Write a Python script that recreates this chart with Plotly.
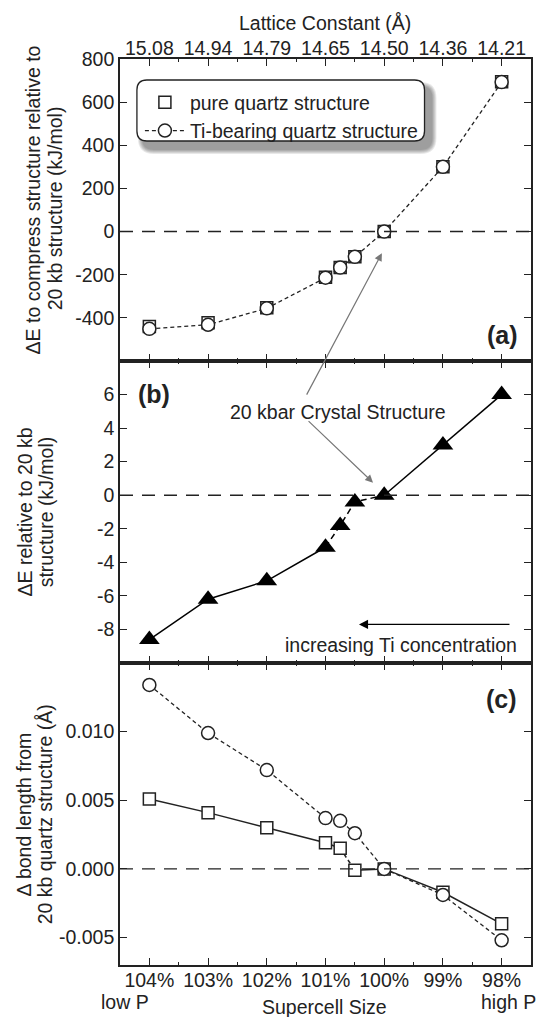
import plotly.graph_objects as go
from plotly.subplots import make_subplots

# Supercell size (% of the 20 kbar cell); the axis runs from low P to high P
supercell = [104, 103, 102, 101, 100.75, 100.5, 100, 99, 98]
size_ticks = [104, 103, 102, 101, 100, 99, 98]
size_labels = ["104%", "103%", "102%", "101%", "100%", "99%", "98%"]
size_minor = [103.5, 102.5, 101.5, 100.5, 99.5, 98.5]
lattice_labels = ["15.08", "14.94", "14.79", "14.65", "14.50", "14.36", "14.21"]

# (a) energy to compress the structure relative to the 20 kb structure (kJ/mol)
de_pure_a = [-440, -423, -353, -212, -166, -117, 0, 301, 695]
de_ti_a = [-451, -432, -356, -214, -167, -117, 0, 300, 693]
a_ticks = [-400, -200, 0, 200, 400, 600, 800]
a_labels = ["-400", "-200", "0", "200", "400", "600", "800"]

# (b) energy of the Ti-bearing cell relative to the 20 kb structure (kJ/mol)
de_b = [-8.6, -6.2, -5.1, -3.1, -1.8, -0.4, 0.0, 3.0, 6.0]
b_ticks = [-8, -6, -4, -2, 0, 2, 4, 6]
b_labels = ["-8", "-6", "-4", "-2", "0", "2", "4", "6"]

# (c) change of bond length relative to the 20 kb quartz structure (Å)
bond_pure_c = [0.0051, 0.0041, 0.0030, 0.0019, 0.0015, -0.0001, 0.0, -0.0017, -0.0040]
bond_ti_c = [0.0134, 0.0099, 0.0072, 0.0037, 0.0035, 0.0026, 0.0, -0.0019, -0.0052]
c_ticks = [-0.005, 0.0, 0.005, 0.010]
c_labels = ["-0.005", "0.000", "0.005", "0.010"]

INK = "#222222"
FONT = "Liberation Sans, Arial, Helvetica, sans-serif"
FS = 19.5
W, H = 539, 1017
ML, MR, MT, MB = 120, 6, 59, 52
PW, PH = W - ML - MR, H - MT - MB


def px(xp):
    return (xp - ML) / PW


def py(yp):
    return (H - MB - yp) / PH


fig = make_subplots(rows=3, cols=1, shared_xaxes=True, vertical_spacing=0)

sq = dict(symbol="square", size=12, color="white", line=dict(color=INK, width=1.5))
ci = dict(symbol="circle", size=13, color="white", line=dict(color=INK, width=1.5))
tri = dict(symbol="triangle-up", size=18, color="black", line=dict(color="black", width=0))
short_dash = "4px,3px"

# panel (a)
fig.add_trace(go.Scatter(x=supercell, y=de_pure_a, mode="markers", marker=sq,
                         name="pure quartz structure"), row=1, col=1)
fig.add_trace(go.Scatter(x=supercell, y=de_ti_a, mode="lines+markers", marker=ci,
                         line=dict(color=INK, width=1.3, dash=short_dash),
                         name="Ti-bearing quartz structure"), row=1, col=1)

# panel (b): measured ends solid, the segment near the 20 kb cell dashed
for i0, i1, dash in [(0, 4, "solid"), (3, 7, "6px,4px"), (6, 9, "solid")]:
    fig.add_trace(go.Scatter(x=supercell[i0:i1], y=de_b[i0:i1], mode="lines",
                             line=dict(color="black", width=1.5, dash=dash),
                             showlegend=False), row=2, col=1)
fig.add_trace(go.Scatter(x=supercell, y=de_b, mode="markers", marker=tri,
                         showlegend=False), row=2, col=1)

# panel (c)
fig.add_trace(go.Scatter(x=supercell, y=bond_ti_c, mode="lines",
                         line=dict(color=INK, width=1.3, dash=short_dash),
                         showlegend=False), row=3, col=1)
for i0, i1, dash in [(0, 5, "solid"), (4, 6, "4px,3px"), (5, 9, "solid")]:
    fig.add_trace(go.Scatter(x=supercell[i0:i1], y=bond_pure_c[i0:i1], mode="lines",
                             line=dict(color=INK, width=1.5, dash=dash),
                             showlegend=False), row=3, col=1)
fig.add_trace(go.Scatter(x=supercell, y=bond_pure_c, mode="markers", marker=sq,
                         showlegend=False), row=3, col=1)
fig.add_trace(go.Scatter(x=supercell, y=bond_ti_c, mode="markers", marker=ci,
                         showlegend=False), row=3, col=1)

# dashed zero reference in every panel
for r in (1, 2, 3):
    fig.add_hline(y=0, line=dict(color=INK, width=1.4, dash="13px,9px"), row=r, col=1)

axis_common = dict(showline=True, linecolor=INK, linewidth=1.7, mirror="ticks",
                   ticks="inside", ticklen=7, tickwidth=1.4, tickcolor=INK,
                   showgrid=False, zeroline=False,
                   tickfont=dict(family=FONT, size=FS, color=INK))
xminor = dict(tickvals=size_minor, ticks="inside", ticklen=3, tickcolor=INK, tickwidth=1.2)

fig.update_xaxes(range=[104.5, 97.5], tickvals=size_ticks, minor=xminor, **axis_common)
fig.update_xaxes(side="top", showticklabels=True, ticktext=lattice_labels,
                 ticklabelstandoff=-6, row=1, col=1)
fig.update_xaxes(showticklabels=False, row=2, col=1)
fig.update_xaxes(showticklabels=True, ticktext=size_labels,
                 ticklabelstandoff=-3, row=3, col=1)

fig.update_yaxes(**axis_common)
fig.update_yaxes(range=[-600, 800], tickvals=a_ticks, ticktext=a_labels, row=1, col=1)
fig.update_yaxes(range=[-10, 8], tickvals=b_ticks, ticktext=b_labels, row=2, col=1)
fig.update_yaxes(range=[-0.007, 0.015], tickvals=c_ticks, ticktext=c_labels, row=3, col=1)

ann = []


def text(s, xp, yp, size=FS, bold=False, angle=0, xanchor="center"):
    ann.append(dict(text=f"<b>{s}</b>" if bold else s, xref="paper", yref="paper",
                    x=px(xp), y=py(yp), xanchor=xanchor, yanchor="middle",
                    showarrow=False, textangle=angle,
                    font=dict(family=FONT, size=size, color=INK)))


text("Lattice Constant (Å)", 326, 23)
text("low P", 125, 1002)
text("Supercell Size", 325, 1007)
text("high P", 510, 1002)
text("(a)", 504, 335, size=25, bold=True)
text("(b)", 154, 394, size=25, bold=True)
text("(c)", 503, 699, size=25, bold=True)
text("20 kbar Crystal Structure", 339, 412)
text("increasing Ti concentration", 521, 645, xanchor="right")

# axis titles, two rotated lines each
text("ΔE to compress structure relative to", 33, 200, angle=-90)
text("20 kb structure (kJ/mol)", 55, 208, angle=-90)
text("ΔE relative to 20 kb", 25, 512, angle=-90)
text("structure (kJ/mol)", 46, 512, angle=-90)
text("Δ bond length from", 24, 814, angle=-90)
text("20 kb quartz structure (Å)", 45, 814, angle=-90)

# pointers to the 20 kbar cell
ann.append(dict(x=100.04, y=-100, xref="x", yref="y", ax=-76, ay=143, text="",
                showarrow=True, arrowhead=2, arrowsize=1.3, arrowwidth=1.2,
                arrowcolor="#777777"))
ann.append(dict(x=100.19, y=0.75, xref="x2", yref="y2", ax=-66, ay=-63, text="",
                showarrow=True, arrowhead=2, arrowsize=1.3, arrowwidth=1.2,
                arrowcolor="#777777"))
ann.append(dict(x=100.43, y=-7.7, xref="x2", yref="y2", ax=152, ay=0, text="",
                showarrow=True, arrowhead=2, arrowsize=1.4, arrowwidth=1.3,
                arrowcolor="black"))


def rounded_rect(x0, y0, x1, y1, r):
    # closed path in paper units, corners given in pixels
    X = px
    Y = py
    return (f"M {X(x0 + r)},{Y(y0)} L {X(x1 - r)},{Y(y0)} Q {X(x1)},{Y(y0)} {X(x1)},{Y(y0 + r)} "
            f"L {X(x1)},{Y(y1 - r)} Q {X(x1)},{Y(y1)} {X(x1 - r)},{Y(y1)} "
            f"L {X(x0 + r)},{Y(y1)} Q {X(x0)},{Y(y1)} {X(x0)},{Y(y1 - r)} "
            f"L {X(x0)},{Y(y0 + r)} Q {X(x0)},{Y(y0)} {X(x0 + r)},{Y(y0)} Z")


shapes = []
bx0, by0, bx1, by1 = 137, 80, 426, 141
for k in range(8):
    g = 9 - k
    shapes.append(dict(type="path", xref="paper", yref="paper",
                       path=rounded_rect(bx0 + 7 - g, by0 + 8 - g, bx1 + 6 + g, by1 + 7 + g, 10 + g),
                       fillcolor="rgba(0,0,0,0.09)", line=dict(width=0), layer="above"))
shapes.append(dict(type="path", xref="paper", yref="paper",
                   path=rounded_rect(bx0, by0, bx1, by1, 10),
                   fillcolor="white", line=dict(color=INK, width=1.3), layer="above"))

fig.update_layout(
    width=W, height=H, margin=dict(l=ML, r=MR, t=MT, b=MB),
    plot_bgcolor="white", paper_bgcolor="white",
    font=dict(family=FONT, size=FS, color=INK),
    showlegend=True,
    legend=dict(x=px(140), y=py(83), xanchor="left", yanchor="top",
                bgcolor="rgba(0,0,0,0)", borderwidth=0, itemwidth=40,
                font=dict(family=FONT, size=FS, color=INK), tracegroupgap=0),
    annotations=ann, shapes=shapes,
)

fig.write_html("out.html")
